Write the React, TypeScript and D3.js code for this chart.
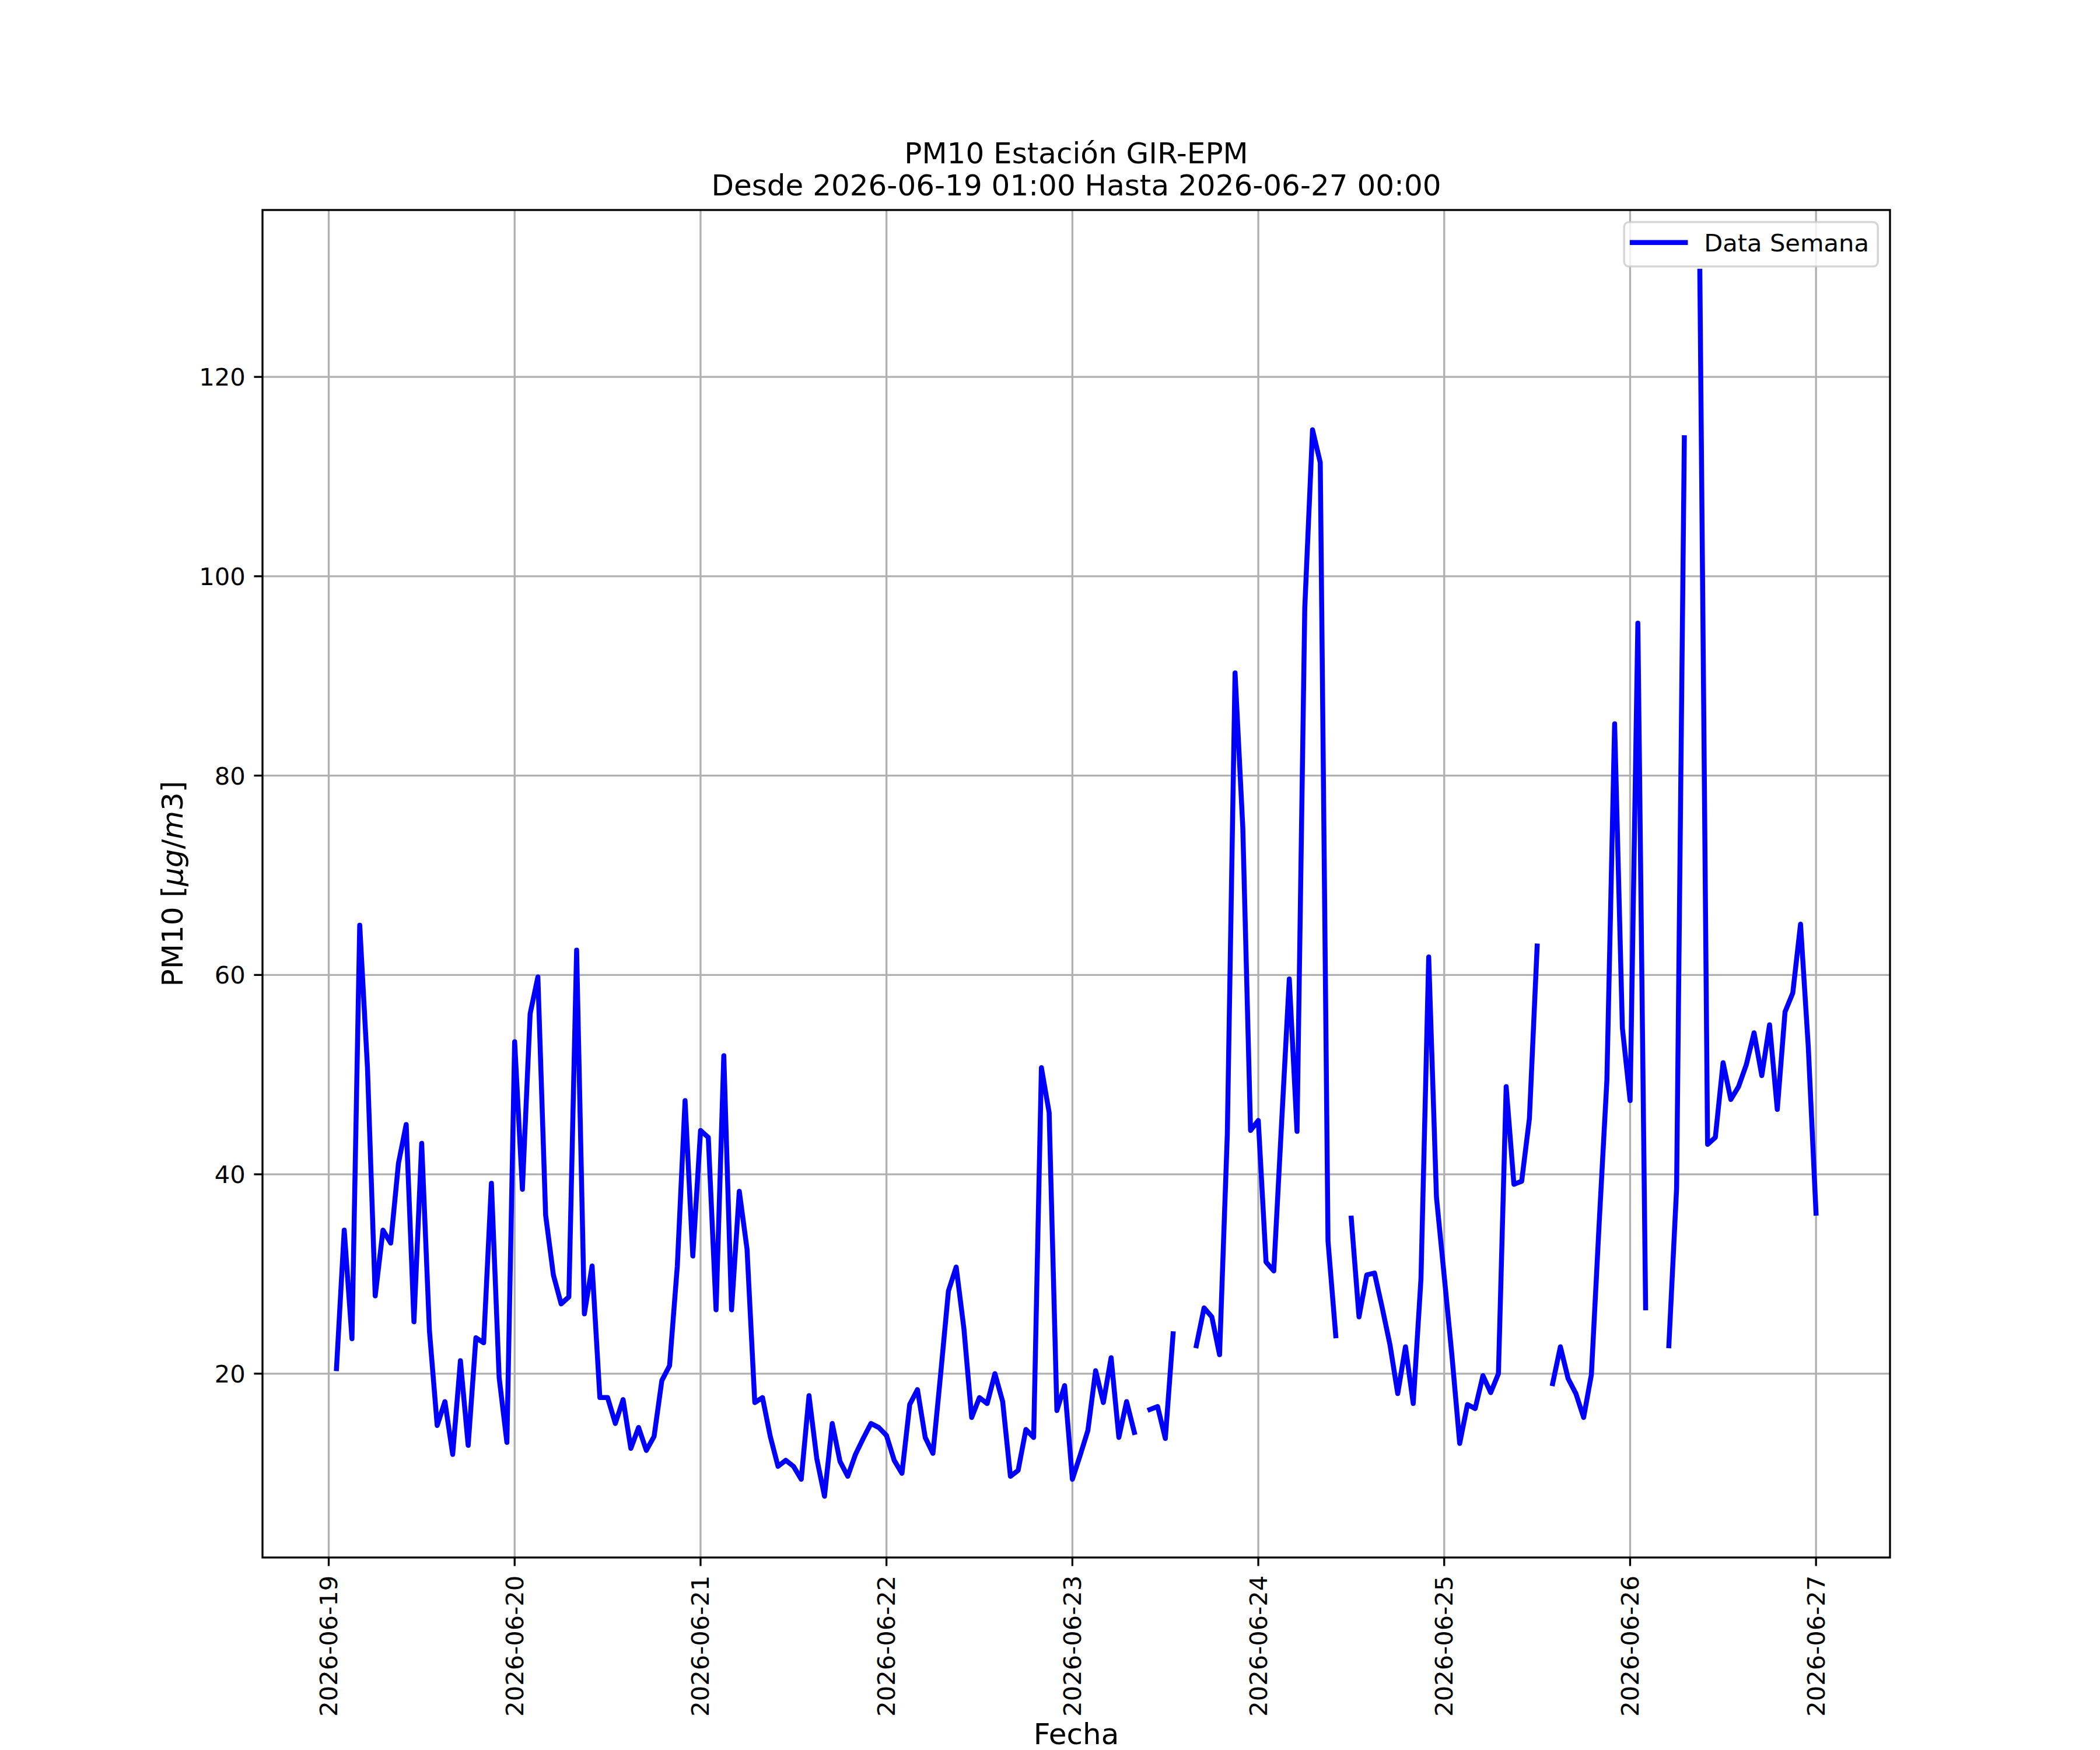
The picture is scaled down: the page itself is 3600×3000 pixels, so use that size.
import React from 'react'
import * as d3 from 'd3'

// PM10 hourly values (null = missing hour)
// 2026-06-19: 01:00 .. 23:00
const pm10_0619 = [20.5, 34.4, 23.5, 65.0, 50.7, 27.8, 34.4, 33.1, 41.1, 45.0, 25.2, 43.1, 24.3, 14.8, 17.2, 11.9, 21.3, 12.8, 23.6, 23.1, 39.1, 19.6, 13.1]
// the rest: 00:00 .. 23:00
const pm10_0620 = [53.3, 38.5, 56.1, 59.8, 35.9, 29.9, 27.0, 27.7, 62.5, 26.0, 30.8, 17.6, 17.6, 15.0, 17.4, 12.5, 14.6, 12.3, 13.7, 19.3, 20.8, 30.8, 47.4, 31.8]
const pm10_0621 = [44.4, 43.7, 26.4, 51.9, 26.4, 38.3, 32.5, 17.1, 17.6, 13.7, 10.7, 11.3, 10.7, 9.4, 17.8, 11.5, 7.7, 15.0, 11.2, 9.7, 11.9, 13.5, 15.0, 14.6]
const pm10_0622 = [13.8, 11.3, 10.0, 16.9, 18.4, 13.6, 12.0, 20.0, 28.3, 30.7, 24.5, 15.6, 17.6, 17.0, 20.0, 17.2, 9.7, 10.3, 14.4, 13.6, 50.7, 46.2, 16.3, 18.8]
const pm10_0623 = [9.4, 11.8, 14.3, 20.3, 17.1, 21.6, 13.6, 17.2, 14.1, null, 16.4, 16.7, 13.5, 24.0, null, null, 22.8, 26.6, 25.7, 21.9, 44.0, 90.3, 74.8, 44.4]
const pm10_0624 = [45.4, 31.2, 30.3, 45.0, 59.6, 44.3, 96.8, 114.7, 111.4, 33.3, 23.8, null, 35.6, 25.7, 29.9, 30.1, 26.6, 22.9, 18.0, 22.7, 17.0, 29.5, 61.8, 37.7]
const pm10_0625 = [29.8, 21.8, 13.0, 16.9, 16.5, 19.8, 18.1, 20.0, 48.8, 39.0, 39.3, 45.6, 62.9, null, 19.0, 22.7, 19.5, 18.0, 15.6, 19.9, 35.0, 49.4, 85.2, 54.7]
const pm10_0626 = [47.4, 95.3, 26.6, null, null, 22.8, 38.6, 113.9, null, 130.6, 43.0, 43.7, 51.2, 47.5, 48.8, 51.0, 54.2, 49.9, 55.0, 46.5, 56.3, 58.2, 65.1, 52.8]
const pm10_0627 = [36.1]

const yTicks = [20, 40, 60, 80, 100, 120]
const xTickDays = ['2026-06-19', '2026-06-20', '2026-06-21', '2026-06-22', '2026-06-23', '2026-06-24', '2026-06-25', '2026-06-26', '2026-06-27']

const titleLines = ['PM10 Estación GIR-EPM', 'Desde 2026-06-19 01:00 Hasta 2026-06-27 00:00']
const legendLabel = 'Data Semana'

const W = 3600
const H = 3000
const margin = { left: 450, right: 3240, top: 360, bottom: 2670 }
const FONT = '"DejaVu Sans", sans-serif'

type Pt = { t: Date; v: number | null }

const start = Date.UTC(2026, 5, 19, 1)
const values: (number | null)[] = [
  ...pm10_0619, ...pm10_0620, ...pm10_0621, ...pm10_0622,
  ...pm10_0623, ...pm10_0624, ...pm10_0625, ...pm10_0626, ...pm10_0627,
]
const data: Pt[] = values.map((v, i) => ({ t: new Date(start + i * 3600e3), v }))

export default function App() {
  // matplotlib-like 5% margins
  const t0 = data[0].t.getTime()
  const t1 = data[data.length - 1].t.getTime()
  const dt = (t1 - t0) * 0.05
  const x = d3.scaleUtc()
    .domain([new Date(t0 - dt), new Date(t1 + dt)])
    .range([margin.left, margin.right])

  const vals = data.filter(d => d.v != null).map(d => d.v as number)
  const [vmin, vmax] = d3.extent(vals) as [number, number]
  const dv = (vmax - vmin) * 0.05
  const y = d3.scaleLinear()
    .domain([vmin - dv, vmax + dv])
    .range([margin.bottom, margin.top])

  const line = d3.line<Pt>()
    .defined(d => d.v != null)
    .x(d => x(d.t))
    .y(d => y(d.v as number))

  const xTicks = xTickDays.map(s => {
    const [yy, mm, dd] = s.split('-').map(Number)
    return { label: s, t: new Date(Date.UTC(yy, mm - 1, dd)) }
  })

  const cx = (margin.left + margin.right) / 2
  const cy = (margin.top + margin.bottom) / 2
  const tickLen = 14.6
  const grid = '#b0b0b0'

  // legend box (upper right)
  const lgRight = margin.right - 20.8
  const lgTop = margin.top + 20.8
  const lgW = 435
  const lgH = 76

  return (
    <svg width={W} height={H} style={{ position: 'absolute', left: 0, top: 0, background: '#fff' }}
      fontFamily={FONT}>
      <rect x={0} y={0} width={W} height={H} fill="#fff" />
      <defs>
        <clipPath id="plotClip">
          <rect x={margin.left} y={margin.top} width={margin.right - margin.left} height={margin.bottom - margin.top} />
        </clipPath>
      </defs>

      {/* grid */}
      <g stroke={grid} strokeWidth={3.33}>
        {xTicks.map(d => (
          <line key={d.label} x1={x(d.t)} x2={x(d.t)} y1={margin.top} y2={margin.bottom} />
        ))}
        {yTicks.map(v => (
          <line key={v} x1={margin.left} x2={margin.right} y1={y(v)} y2={y(v)} />
        ))}
      </g>

      {/* data */}
      <path d={line(data) || ''} fill="none" stroke="#0000ff" strokeWidth={8.5}
        strokeLinejoin="round" strokeLinecap="square" clipPath="url(#plotClip)" />

      {/* frame */}
      <rect x={margin.left} y={margin.top} width={margin.right - margin.left} height={margin.bottom - margin.top}
        fill="none" stroke="#000" strokeWidth={3.33} />

      {/* x ticks */}
      <g>
        {xTicks.map(d => (
          <g key={d.label} transform={`translate(${x(d.t)},0)`}>
            <line y1={margin.bottom} y2={margin.bottom + tickLen} stroke="#000" strokeWidth={3.33} />
            <text transform={`translate(0,${margin.bottom + tickLen * 2.1}) rotate(-90)`}
              textAnchor="end" dominantBaseline="central" fontSize={41.67} fill="#000">{d.label}</text>
          </g>
        ))}
      </g>

      {/* y ticks */}
      <g>
        {yTicks.map(v => (
          <g key={v} transform={`translate(0,${y(v)})`}>
            <line x1={margin.left - tickLen} x2={margin.left} stroke="#000" strokeWidth={3.33} />
            <text x={margin.left - tickLen * 2} dy="0.36em" textAnchor="end" fontSize={41.67} fill="#000">{v}</text>
          </g>
        ))}
      </g>

      {/* axis labels */}
      <text x={cx} y={2990} textAnchor="middle" fontSize={50} fill="#000">Fecha</text>
      <text transform={`translate(313,${cy}) rotate(-90)`} textAnchor="middle" fontSize={50} fill="#000">
        PM10 [<tspan fontStyle="italic">μg</tspan>/<tspan fontStyle="italic">m</tspan>3]
      </text>

      {/* title */}
      <text x={cx} y={280} textAnchor="middle" fontSize={50} fill="#000">{titleLines[0]}</text>
      <text x={cx} y={335} textAnchor="middle" fontSize={50} fill="#000">{titleLines[1]}</text>

      {/* legend */}
      <g>
        <rect x={lgRight - lgW} y={lgTop} width={lgW} height={lgH} rx={8} ry={8}
          fill="#fff" fillOpacity={0.8} stroke="#cccccc" strokeOpacity={0.8} strokeWidth={3.5} />
        <line x1={lgRight - lgW + 14} x2={lgRight - lgW + 105} y1={lgTop + 35} y2={lgTop + 35}
          stroke="#0000ff" strokeWidth={8.5} strokeLinecap="square" />
        <text x={lgRight - lgW + 137} y={lgTop + 50} fontSize={41.67} fill="#000">{legendLabel}</text>
      </g>
    </svg>
  )
}
